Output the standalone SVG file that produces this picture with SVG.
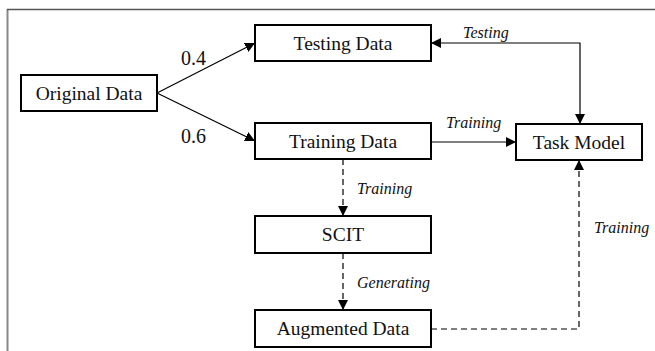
<svg xmlns="http://www.w3.org/2000/svg" width="655" height="351" viewBox="0 0 655 351">
<style>
.box{fill:#fff;stroke:#000;stroke-width:2}
text{font-family:'Times New Roman','Liberation Serif',Tinos,'DejaVu Serif',serif;fill:#111}
.t{font-size:19.5px;text-anchor:middle}
.num{font-size:20px}
.lbl{font-size:16px;font-style:italic}
.c{fill:none;stroke:#000;stroke-width:1.2}
.d{stroke-dasharray:6,4}
</style>
<defs>
<marker id="ah" viewBox="0 0 10 10" refX="10" refY="5" markerWidth="10" markerHeight="10" markerUnits="userSpaceOnUse" orient="auto">
<path d="M0,0 L10,5 L0,10 z" fill="#000"/>
</marker>
<marker id="ahs" viewBox="0 0 10 10" refX="0" refY="5" markerWidth="10" markerHeight="10" markerUnits="userSpaceOnUse" orient="auto">
<path d="M10,0 L0,5 L10,10 z" fill="#000"/>
</marker>
</defs>
<rect width="655" height="351" fill="#fff"/>
<g id="frame">
<line x1="7.5" y1="9" x2="7.5" y2="351" stroke="#888" stroke-width="2"/>
<line x1="7" y1="9.5" x2="655" y2="9.5" stroke="#555" stroke-width="1.5"/>
</g>
<g id="connectors">
<line class="c" x1="157" y1="93" x2="255" y2="43" marker-end="url(#ah)"/>
<line class="c" x1="157" y1="93" x2="255" y2="141" marker-end="url(#ah)"/>
<polyline class="c" points="431,43 580,43 580,124" marker-start="url(#ahs)" marker-end="url(#ah)"/>
<line class="c" x1="431" y1="142" x2="516" y2="142" marker-end="url(#ah)"/>
<line class="c d" x1="343" y1="159" x2="343" y2="216" marker-end="url(#ah)"/>
<line class="c d" x1="343" y1="253" x2="343" y2="310" marker-end="url(#ah)"/>
<polyline class="c d" points="431,329 579,329 579,160" marker-end="url(#ah)"/>
<text class="num" x="181" y="65">0.4</text>
<text class="num" x="181" y="143">0.6</text>
<text class="lbl" x="463" y="38">Testing</text>
<text class="lbl" x="446" y="128">Training</text>
<text class="lbl" x="357" y="194">Training</text>
<text class="lbl" x="357" y="288">Generating</text>
<text class="lbl" x="594" y="233">Training</text>
</g>
<g id="original-data">
<rect class="box" x="21" y="75" width="136" height="36"/>
<text class="t" x="89" y="100">Original Data</text>
</g>
<g id="testing-data">
<rect class="box" x="255" y="25" width="176" height="36"/>
<text class="t" x="343" y="50">Testing Data</text>
</g>
<g id="training-data">
<rect class="box" x="255" y="123" width="176" height="36"/>
<text class="t" x="343" y="148">Training Data</text>
</g>
<g id="task-model">
<rect class="box" x="516" y="124" width="126" height="36"/>
<text class="t" x="579" y="149">Task Model</text>
</g>
<g id="scit">
<rect class="box" x="255" y="216" width="176" height="37"/>
<text class="t" x="343" y="241">SCIT</text>
</g>
<g id="augmented-data">
<rect class="box" x="255" y="310" width="176" height="37"/>
<text class="t" x="343" y="335">Augmented Data</text>
</g>
</svg>
